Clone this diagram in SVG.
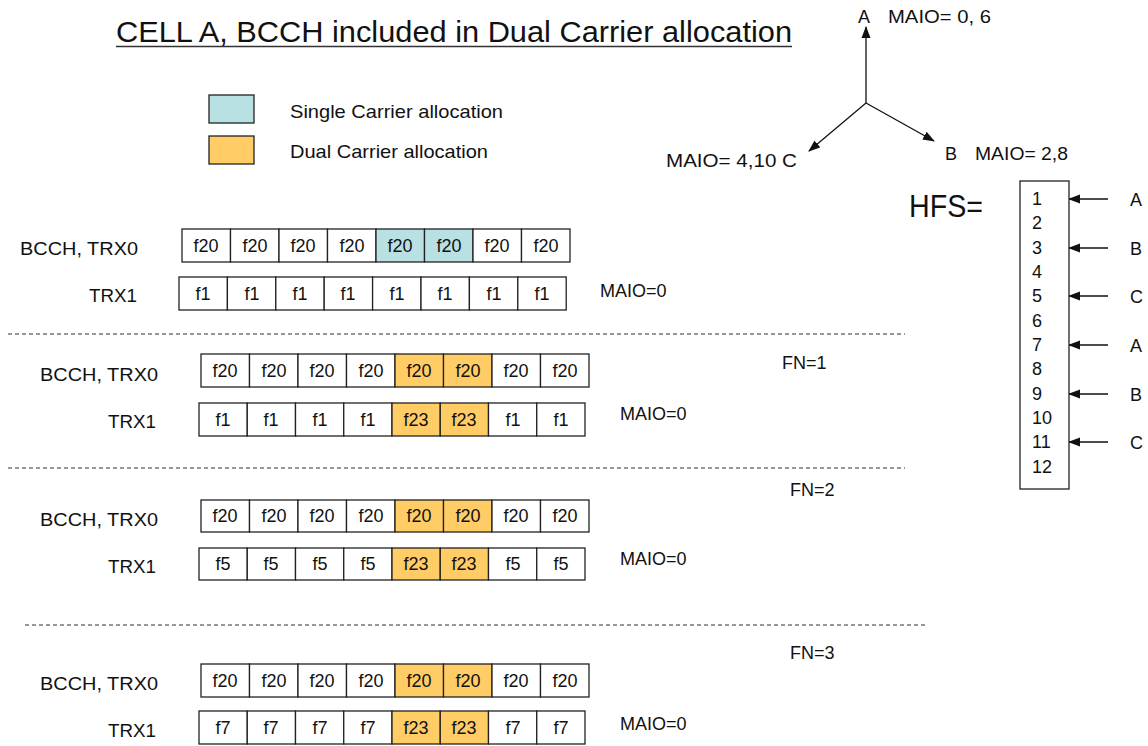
<svg xmlns="http://www.w3.org/2000/svg" width="1148" height="746" viewBox="0 0 1148 746">
<defs>
<style>
text{font-family:"Liberation Sans",Arial,sans-serif;fill:#111}
.t{font-size:29px}
.l{font-size:19px}
.m{font-size:18px}
.c{font-size:18px;text-anchor:middle}
.cell{stroke:#222;stroke-width:1.3;fill:#fff}
.sc{fill:#B9E0E2}
.dc{fill:#FFCC66}
.dash{stroke:#333;stroke-width:1.2;stroke-dasharray:4 3;fill:none}
.ln{stroke:#111;stroke-width:1.3;fill:none}
</style>
<marker id="ah" viewBox="0 0 12 10" refX="11" refY="5" markerWidth="12" markerHeight="10" orient="auto" markerUnits="userSpaceOnUse"><path d="M0,0.5 L12,5 L0,9.5 Z" fill="#111"/></marker>
</defs>
<rect width="1148" height="746" fill="#fff"/>

<g id="title">
<text class="t" x="116" y="42" textLength="676" lengthAdjust="spacingAndGlyphs">CELL A, BCCH included in Dual Carrier allocation</text>
<line x1="116" y1="46.5" x2="792" y2="46.5" stroke="#333" stroke-width="1.5"/>
</g>

<g id="legend">
<rect x="209" y="95" width="45" height="28" class="cell sc"/>
<rect x="209" y="136" width="45" height="28" class="cell dc"/>
<text class="l" x="290" y="118" textLength="213" lengthAdjust="spacingAndGlyphs">Single Carrier allocation</text>
<text class="l" x="290" y="158" textLength="198" lengthAdjust="spacingAndGlyphs">Dual Carrier allocation</text>
</g>

<g id="connectors">
<line class="ln" x1="866" y1="103" x2="866" y2="27" marker-end="url(#ah)"/>
<line class="ln" x1="866" y1="103" x2="809" y2="151" marker-end="url(#ah)"/>
<line class="ln" x1="866" y1="103" x2="934" y2="141" marker-end="url(#ah)"/>
<line class="ln" x1="1108" y1="199" x2="1069" y2="199" marker-end="url(#ah)"/>
<line class="ln" x1="1108" y1="248" x2="1069" y2="248" marker-end="url(#ah)"/>
<line class="ln" x1="1108" y1="296" x2="1069" y2="296" marker-end="url(#ah)"/>
<line class="ln" x1="1108" y1="345" x2="1069" y2="345" marker-end="url(#ah)"/>
<line class="ln" x1="1108" y1="394" x2="1069" y2="394" marker-end="url(#ah)"/>
<line class="ln" x1="1108" y1="442" x2="1069" y2="442" marker-end="url(#ah)"/>
</g>

<g id="maio-labels">
<text class="m" x="858" y="23">A</text>
<text class="m" x="888" y="23" textLength="103" lengthAdjust="spacingAndGlyphs">MAIO= 0, 6</text>
<text class="m" x="666" y="167" textLength="131" lengthAdjust="spacingAndGlyphs">MAIO= 4,10 C</text>
<text class="m" x="945" y="160">B</text>
<text class="m" x="975" y="160" textLength="93" lengthAdjust="spacingAndGlyphs">MAIO= 2,8</text>
</g>

<g id="hfs">
<text x="909" y="217" style="font-size:31px" textLength="74" lengthAdjust="spacingAndGlyphs">HFS=</text>
<rect x="1020" y="181" width="49" height="308" class="cell"/>
<g class="m">
<text x="1032" y="205">1</text><text x="1032" y="229">2</text><text x="1032" y="254">3</text><text x="1032" y="278">4</text>
<text x="1032" y="302">5</text><text x="1032" y="327">6</text><text x="1032" y="351">7</text><text x="1032" y="375">8</text>
<text x="1032" y="400">9</text><text x="1032" y="424">10</text><text x="1032" y="448">11</text><text x="1032" y="473">12</text>
</g>
<g class="m">
<text x="1130" y="206">A</text><text x="1130" y="255">B</text><text x="1130" y="303">C</text>
<text x="1130" y="352">A</text><text x="1130" y="401">B</text><text x="1130" y="449">C</text>
</g>
</g>

<g id="separators">
<line class="dash" x1="8" y1="334" x2="905" y2="334"/>
<line class="dash" x1="8" y1="468" x2="905" y2="468"/>
<line class="dash" x1="25" y1="625" x2="925" y2="625"/>
</g>

<g id="fn0">
<text class="l" x="20" y="255" textLength="118" lengthAdjust="spacingAndGlyphs">BCCH, TRX0</text>
<text class="l" x="89" y="302" textLength="48" lengthAdjust="spacingAndGlyphs">TRX1</text>
<text class="m" x="600" y="297">MAIO=0</text>
<g>
<rect x="182" y="229" width="48.5" height="33" class="cell"/><rect x="230.5" y="229" width="48.5" height="33" class="cell"/>
<rect x="279" y="229" width="48.5" height="33" class="cell"/><rect x="327.5" y="229" width="48.5" height="33" class="cell"/>
<rect x="376" y="229" width="48.5" height="33" class="cell sc"/><rect x="424.5" y="229" width="48.5" height="33" class="cell sc"/>
<rect x="473" y="229" width="48.5" height="33" class="cell"/><rect x="521.5" y="229" width="48.5" height="33" class="cell"/>
</g>
<g class="c">
<text x="206" y="252">f20</text><text x="255" y="252">f20</text><text x="303" y="252">f20</text><text x="352" y="252">f20</text>
<text x="400" y="252">f20</text><text x="449" y="252">f20</text><text x="497" y="252">f20</text><text x="546" y="252">f20</text>
</g>
<g>
<rect x="179" y="277" width="48.4" height="33" class="cell"/><rect x="227.4" y="277" width="48.4" height="33" class="cell"/>
<rect x="275.8" y="277" width="48.4" height="33" class="cell"/><rect x="324.2" y="277" width="48.4" height="33" class="cell"/>
<rect x="372.6" y="277" width="48.4" height="33" class="cell"/><rect x="421" y="277" width="48.4" height="33" class="cell"/>
<rect x="469.4" y="277" width="48.4" height="33" class="cell"/><rect x="517.8" y="277" width="48.4" height="33" class="cell"/>
</g>
<g class="c">
<text x="203" y="300">f1</text><text x="252" y="300">f1</text><text x="300" y="300">f1</text><text x="348" y="300">f1</text>
<text x="397" y="300">f1</text><text x="445" y="300">f1</text><text x="494" y="300">f1</text><text x="542" y="300">f1</text>
</g>
</g>

<g id="fn1">
<text class="l" x="40" y="381" textLength="118" lengthAdjust="spacingAndGlyphs">BCCH, TRX0</text>
<text class="l" x="108" y="428" textLength="48" lengthAdjust="spacingAndGlyphs">TRX1</text>
<text class="m" x="782" y="369">FN=1</text>
<text class="m" x="620" y="420">MAIO=0</text>
<g>
<rect x="201" y="354" width="48.5" height="33" class="cell"/><rect x="249.5" y="354" width="48.5" height="33" class="cell"/>
<rect x="298" y="354" width="48.5" height="33" class="cell"/><rect x="346.5" y="354" width="48.5" height="33" class="cell"/>
<rect x="395" y="354" width="48.5" height="33" class="cell dc"/><rect x="443.5" y="354" width="48.5" height="33" class="cell dc"/>
<rect x="492" y="354" width="48.5" height="33" class="cell"/><rect x="540.5" y="354" width="48.5" height="33" class="cell"/>
</g>
<g class="c">
<text x="225" y="377">f20</text><text x="274" y="377">f20</text><text x="322" y="377">f20</text><text x="371" y="377">f20</text>
<text x="419" y="377">f20</text><text x="468" y="377">f20</text><text x="516" y="377">f20</text><text x="565" y="377">f20</text>
</g>
<g>
<rect x="199" y="403" width="48.25" height="33" class="cell"/><rect x="247.25" y="403" width="48.25" height="33" class="cell"/>
<rect x="295.5" y="403" width="48.25" height="33" class="cell"/><rect x="343.75" y="403" width="48.25" height="33" class="cell"/>
<rect x="392" y="403" width="48.25" height="33" class="cell dc"/><rect x="440.25" y="403" width="48.25" height="33" class="cell dc"/>
<rect x="488.5" y="403" width="48.25" height="33" class="cell"/><rect x="536.75" y="403" width="48.25" height="33" class="cell"/>
</g>
<g class="c">
<text x="223" y="426">f1</text><text x="271" y="426">f1</text><text x="320" y="426">f1</text><text x="368" y="426">f1</text>
<text x="416" y="426">f23</text><text x="464" y="426">f23</text><text x="513" y="426">f1</text><text x="561" y="426">f1</text>
</g>
</g>

<g id="fn2">
<text class="l" x="40" y="526" textLength="118" lengthAdjust="spacingAndGlyphs">BCCH, TRX0</text>
<text class="l" x="108" y="573" textLength="48" lengthAdjust="spacingAndGlyphs">TRX1</text>
<text class="m" x="790" y="496">FN=2</text>
<text class="m" x="620" y="565">MAIO=0</text>
<g>
<rect x="201" y="500" width="48.5" height="32" class="cell"/><rect x="249.5" y="500" width="48.5" height="32" class="cell"/>
<rect x="298" y="500" width="48.5" height="32" class="cell"/><rect x="346.5" y="500" width="48.5" height="32" class="cell"/>
<rect x="395" y="500" width="48.5" height="32" class="cell dc"/><rect x="443.5" y="500" width="48.5" height="32" class="cell dc"/>
<rect x="492" y="500" width="48.5" height="32" class="cell"/><rect x="540.5" y="500" width="48.5" height="32" class="cell"/>
</g>
<g class="c">
<text x="225" y="522">f20</text><text x="274" y="522">f20</text><text x="322" y="522">f20</text><text x="371" y="522">f20</text>
<text x="419" y="522">f20</text><text x="468" y="522">f20</text><text x="516" y="522">f20</text><text x="565" y="522">f20</text>
</g>
<g>
<rect x="199" y="548" width="48.25" height="32" class="cell"/><rect x="247.25" y="548" width="48.25" height="32" class="cell"/>
<rect x="295.5" y="548" width="48.25" height="32" class="cell"/><rect x="343.75" y="548" width="48.25" height="32" class="cell"/>
<rect x="392" y="548" width="48.25" height="32" class="cell dc"/><rect x="440.25" y="548" width="48.25" height="32" class="cell dc"/>
<rect x="488.5" y="548" width="48.25" height="32" class="cell"/><rect x="536.75" y="548" width="48.25" height="32" class="cell"/>
</g>
<g class="c">
<text x="223" y="570">f5</text><text x="271" y="570">f5</text><text x="320" y="570">f5</text><text x="368" y="570">f5</text>
<text x="416" y="570">f23</text><text x="464" y="570">f23</text><text x="513" y="570">f5</text><text x="561" y="570">f5</text>
</g>
</g>

<g id="fn3">
<text class="l" x="40" y="690" textLength="118" lengthAdjust="spacingAndGlyphs">BCCH, TRX0</text>
<text class="l" x="108" y="737" textLength="48" lengthAdjust="spacingAndGlyphs">TRX1</text>
<text class="m" x="790" y="659">FN=3</text>
<text class="m" x="620" y="730">MAIO=0</text>
<g>
<rect x="201" y="664" width="48.5" height="33" class="cell"/><rect x="249.5" y="664" width="48.5" height="33" class="cell"/>
<rect x="298" y="664" width="48.5" height="33" class="cell"/><rect x="346.5" y="664" width="48.5" height="33" class="cell"/>
<rect x="395" y="664" width="48.5" height="33" class="cell dc"/><rect x="443.5" y="664" width="48.5" height="33" class="cell dc"/>
<rect x="492" y="664" width="48.5" height="33" class="cell"/><rect x="540.5" y="664" width="48.5" height="33" class="cell"/>
</g>
<g class="c">
<text x="225" y="687">f20</text><text x="274" y="687">f20</text><text x="322" y="687">f20</text><text x="371" y="687">f20</text>
<text x="419" y="687">f20</text><text x="468" y="687">f20</text><text x="516" y="687">f20</text><text x="565" y="687">f20</text>
</g>
<g>
<rect x="199" y="711" width="48.25" height="33" class="cell"/><rect x="247.25" y="711" width="48.25" height="33" class="cell"/>
<rect x="295.5" y="711" width="48.25" height="33" class="cell"/><rect x="343.75" y="711" width="48.25" height="33" class="cell"/>
<rect x="392" y="711" width="48.25" height="33" class="cell dc"/><rect x="440.25" y="711" width="48.25" height="33" class="cell dc"/>
<rect x="488.5" y="711" width="48.25" height="33" class="cell"/><rect x="536.75" y="711" width="48.25" height="33" class="cell"/>
</g>
<g class="c">
<text x="223" y="734">f7</text><text x="271" y="734">f7</text><text x="320" y="734">f7</text><text x="368" y="734">f7</text>
<text x="416" y="734">f23</text><text x="464" y="734">f23</text><text x="513" y="734">f7</text><text x="561" y="734">f7</text>
</g>
</g>
</svg>
